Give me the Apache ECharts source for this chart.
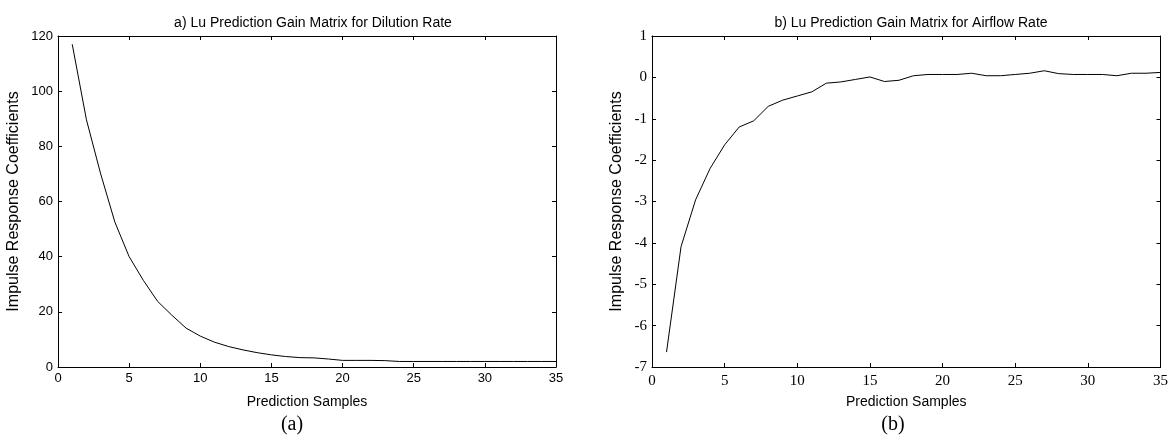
<!DOCTYPE html>
<html>
<head>
<meta charset="utf-8">
<script src="https://cdn.jsdelivr.net/npm/echarts@6/dist/echarts.min.js"></script>
<style>
html,body{margin:0;padding:0;background:#fff;}
#chart{width:1171px;height:443px;}
</style>
</head>
<body>
<div id="chart"></div>
<script>
// ---- data ----
const samples = [1,2,3,4,5,6,7,8,9,10,11,12,13,14,15,16,17,18,19,20,21,22,23,24,25,26,27,28,29,30,31,32,33,34,35];
const dilutionRate = [117,89.6,70,52.5,40,31.4,23.8,18.8,14.1,11.2,9.0,7.4,6.2,5.2,4.4,3.8,3.4,3.3,2.9,2.4,2.4,2.4,2.3,2.0,2.0,2.0,2.0,2.0,2.0,2.0,2.0,2.0,2.0,2.0,2.0];
const airflowRate = [-6.64,-4.09,-2.96,-2.2,-1.63,-1.2,-1.05,-0.70,-0.55,-0.45,-0.35,-0.14,-0.11,-0.05,0.01,-0.10,-0.07,0.04,0.07,0.07,0.07,0.10,0.04,0.04,0.07,0.10,0.16,0.09,0.07,0.07,0.07,0.04,0.10,0.10,0.12];
const titles = ['a) Lu Prediction Gain Matrix for Dilution Rate','b) Lu Prediction Gain Matrix for Airflow Rate'];
const panelLabels = ['(a)','(b)'];
const xAxisName = 'Prediction Samples';
const yAxisName = 'Impulse Response Coefficients';
const xRange = [0,35,5];
const yRangeA = [0,120,20];
const yRangeB = [-7,1,1];

const chart = echarts.init(document.getElementById('chart'));
const SANS = 'Liberation Sans, Arial, sans-serif';
const SERIF = 'Liberation Serif, Times New Roman, serif';

function axisCommon(){
  return {
    axisLine:{show:true,onZero:false,lineStyle:{color:'#000',width:1}},
    axisTick:{show:true,inside:true,length:4,lineStyle:{color:'#000',width:1}},
    splitLine:{show:false}
  };
}
function xAxes(grid, range, font, size, margin){
  const b = Object.assign(axisCommon(), {
    type:'value', gridIndex:grid, position:'bottom', min:range[0], max:range[1], interval:range[2],
    name:xAxisName, nameLocation:'middle', nameGap:28,
    nameTextStyle:{fontFamily:SANS,fontSize:14,color:'#000'},
    axisLabel:{fontFamily:font,fontSize:size,color:'#000',margin:margin}
  });
  const t = Object.assign(axisCommon(), {
    type:'value', gridIndex:grid, position:'top', min:range[0], max:range[1], interval:range[2],
    axisLabel:{show:false}
  });
  return [b,t];
}
function yAxes(grid, range, font, size, gap){
  const l = Object.assign(axisCommon(), {
    type:'value', gridIndex:grid, position:'left', min:range[0], max:range[1], interval:range[2],
    name:yAxisName, nameLocation:'middle', nameGap:gap, nameRotate:90,
    nameTextStyle:{fontFamily:SANS,fontSize:16,color:'#000'},
    axisLabel:{fontFamily:font,fontSize:size,color:'#000',margin:5}
  });
  const r = Object.assign(axisCommon(), {
    type:'value', gridIndex:grid, position:'right', min:range[0], max:range[1], interval:range[2],
    axisLabel:{show:false}
  });
  return [l,r];
}

const xa = xAxes(0, xRange, SANS, 13, 5).concat(xAxes(1, xRange, SERIF, 15, 7));
const ya = yAxes(0, yRangeA, SANS, 13, 36).concat(yAxes(1, yRangeB, SERIF, 15, 27));

const option = {
  backgroundColor:'#fff',
  animation:false,
  title:[
    {text:titles[0], left:308, top:11, textAlign:'center', textStyle:{fontFamily:SANS,fontSize:14,fontWeight:'normal',color:'#000'}},
    {text:titles[1], left:906, top:11, textAlign:'center', textStyle:{fontFamily:SANS,fontSize:14,fontWeight:'normal',color:'#000'}},
    {text:panelLabels[0], left:287, top:410, textAlign:'center', textStyle:{fontFamily:SERIF,fontSize:20,fontWeight:'normal',color:'#000'}},
    {text:panelLabels[1], left:888, top:410, textAlign:'center', textStyle:{fontFamily:SERIF,fontSize:20,fontWeight:'normal',color:'#000'}}
  ],
  grid:[
    {left:58, top:36, width:498, height:331},
    {left:652, top:36, width:509, height:331}
  ],
  xAxis: xa,
  yAxis: ya,
  series:[
    {type:'line', xAxisIndex:0, yAxisIndex:0, showSymbol:false, symbol:'none',
     lineStyle:{color:'#000',width:1}, data:samples.map((s,i)=>[s,dilutionRate[i]])},
    {type:'line', xAxisIndex:2, yAxisIndex:2, showSymbol:false, symbol:'none',
     lineStyle:{color:'#000',width:1}, data:samples.map((s,i)=>[s,airflowRate[i]])}
  ]
};
chart.setOption(option);
</script>
</body>
</html>
